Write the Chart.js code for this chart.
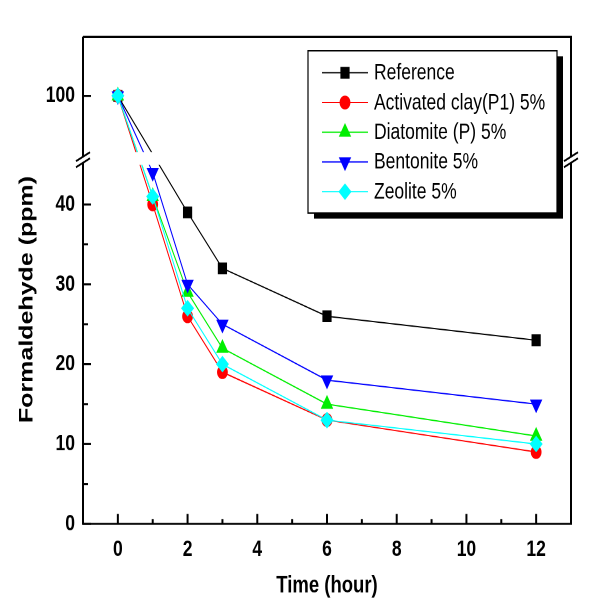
<!DOCTYPE html>
<html>
<head>
<meta charset="utf-8">
<script src="https://cdn.jsdelivr.net/npm/chart.js@4.4.0/dist/chart.umd.min.js"></script>
<style>
  html, body { margin: 0; padding: 0; background: #fff; }
  /* the original figure is a bit taller than wide: the 603x477 drawing is shown stretched to 611 px high */
  #chart { display: block; width: 603px; height: 611px; }
</style>
</head>
<body>
<canvas id="chart" width="603" height="477" style="width:603px;height:611px"></canvas>
<script>
// data
const hours = [0, 1, 2, 3, 6, 12];
const referenceVals = [100, null, 39, 32, 26, 23];
const activatedClayVals = [100, 40, 26, 19, 13, 9];
const diatomiteVals = [100, 41, 29, 22, 15, 11];
const bentoniteVals = [100, 44, 30, 25, 18, 15];
const zeoliteVals = [100, 41, 27, 20, 13, 10];
const seriesLabels = ['Reference', 'Activated clay(P1) 5%', 'Diatomite (P) 5%', 'Bentonite 5%', 'Zeolite 5%'];

const xMajor = [0, 2, 4, 6, 8, 10, 12];
const xMinor = [1, 3, 5, 7, 9, 11];
const yMajor = [0, 10, 20, 30, 40, 100];
const yMinor = [5, 15, 25, 35];

// look of each series
const colors = ['#000000', '#ff0000', '#00ee00', '#0000ff', '#00ffff'];
const pointStyles = ['rect', 'circle', 'triangle', 'triangle', 'rectRot'];
const pointRotations = [0, 0, 0, 180, 0];
const pointSizes = [5.8, 4.9, 6.2, 6.2, 5.8];

const BREAK_LO = 45.6, BREAK_HI = 92;
const FONT = "'Liberation Sans', Arial, sans-serif";

// linear scale with a cut between BREAK_LO and BREAK_HI
class BrokenScale extends Chart.LinearScale {
  toU(v) {
    if (v <= BREAK_LO) return v;
    if (v >= BREAK_HI) return v - BREAK_HI + BREAK_LO;
    return BREAK_LO;
  }
  fromU(u) {
    return u <= BREAK_LO ? u : u + BREAK_HI - BREAK_LO;
  }
  getPixelForValue(v) {
    if (v === null || v === undefined) return NaN;
    const u0 = this.toU(this.min), u1 = this.toU(this.max);
    return this.getPixelForDecimal((this.toU(v) - u0) / (u1 - u0));
  }
  getValueForPixel(p) {
    const u0 = this.toU(this.min), u1 = this.toU(this.max);
    return this.fromU(u0 + this.getDecimalForPixel(p) * (u1 - u0));
  }
}
BrokenScale.id = 'broken';
Chart.register(BrokenScale);

const allVals = [referenceVals, activatedClayVals, diatomiteVals, bentoniteVals, zeoliteVals];

const datasets = allVals.map((vals, i) => ({
  label: seriesLabels[i],
  data: hours.map((h, j) => ({ x: h, y: vals[j] })),
  borderColor: colors[i],
  backgroundColor: colors[i],
  pointBackgroundColor: colors[i],
  pointBorderColor: colors[i],
  pointBorderWidth: 1,
  pointStyle: pointStyles[i],
  pointRotation: pointRotations[i],
  pointRadius: pointSizes[i],
  borderWidth: 1,
  spanGaps: true,
  order: allVals.length - 1 - i   // later series drawn on top
}));

function line(ctx, x1, y1, x2, y2) {
  ctx.beginPath();
  ctx.moveTo(x1, y1);
  ctx.lineTo(x2, y2);
  ctx.stroke();
}

const decor = {
  id: 'decor',
  afterDraw(chart) {
    const { ctx, chartArea: a, scales: { x, y } } = chart;
    const yb = y.getPixelForValue(BREAK_LO);
    ctx.save();

    // white band where the axis is cut
    ctx.fillStyle = '#fff';
    ctx.fillRect(a.left + 2, yb - 6, a.right - a.left - 4, 10);

    // frame
    ctx.strokeStyle = '#000';
    ctx.lineWidth = 1.6;
    line(ctx, a.left, a.top, a.right + 1, a.top);
    line(ctx, a.left - 1, a.bottom, a.right + 1, a.bottom);
    ctx.lineWidth = 2;
    line(ctx, a.right, a.top, a.right, a.bottom);
    line(ctx, a.left, a.top, a.left, a.bottom);

    // inward ticks
    ctx.lineWidth = 1.6;
    yMajor.forEach(v => { const p = y.getPixelForValue(v); line(ctx, a.left, p, a.left + 8, p); });
    yMinor.forEach(v => { const p = y.getPixelForValue(v); line(ctx, a.left, p, a.left + 5, p); });
    ctx.lineWidth = 2;
    xMajor.forEach(v => { const p = x.getPixelForValue(v); line(ctx, p, a.bottom, p, a.bottom - 7.8); });
    xMinor.forEach(v => { const p = x.getPixelForValue(v); line(ctx, p, a.bottom, p, a.bottom - 3.8); });

    // break marks on both vertical axes
    [a.left, a.right].forEach(cx => {
      ctx.fillStyle = '#fff';
      ctx.fillRect(cx - 3, yb - 2.4, 6, 4.8);
      ctx.lineWidth = 1.5;
      line(ctx, cx - 7, yb - 2.4 + 3.5, cx + 7, yb - 2.4 - 3.5);
      line(ctx, cx - 7, yb + 2.4 + 3.5, cx + 7, yb + 2.4 - 3.5);
    });

    // legend box with shadow
    const lx = 308, ly = 39.6, lw = 249, lh = 126.7;
    ctx.fillStyle = '#000';
    ctx.fillRect(lx + 6, ly + 4.4, lw, lh);
    ctx.fillStyle = '#fff';
    ctx.fillRect(lx, ly, lw, lh);
    ctx.lineWidth = 1.2;
    ctx.strokeRect(lx, ly, lw, lh);

    ctx.font = '17.5px ' + FONT;
    ctx.textBaseline = 'middle';
    ctx.textAlign = 'left';
    chart.data.datasets.forEach((ds, i) => {
      const ry = 56.8 + i * 23.2;
      ctx.strokeStyle = ds.borderColor;
      ctx.lineWidth = 1;
      line(ctx, 322, ry, 368, ry);
      ctx.fillStyle = ds.pointBackgroundColor;
      Chart.helpers.drawPoint(ctx, {
        pointStyle: ds.pointStyle, radius: ds.pointRadius,
        rotation: ds.pointRotation, borderWidth: 1
      }, 345, ry);
      ctx.fillStyle = '#000';
      ctx.fillText(ds.label, 374, ry + 0.5, 176);
    });

    // y axis title
    ctx.translate(27, 233.8);
    ctx.rotate(-Math.PI / 2);
    ctx.font = 'bold 19.5px ' + FONT;
    ctx.textAlign = 'center';
    ctx.fillStyle = '#000';
    ctx.fillText('Formaldehyde (ppm)', 0, 0);
    ctx.restore();
  }
};

const tickFont = { family: FONT, size: 17.5, weight: 'bold' };

new Chart(document.getElementById('chart'), {
  type: 'line',
  data: { datasets: datasets },
  options: {
    responsive: false,
    animation: false,
    devicePixelRatio: 2,
    layout: { padding: { left: 0, right: 32, top: 28.65, bottom: 0 } },
    plugins: { legend: { display: false }, tooltip: { enabled: false } },
    elements: { line: { tension: 0 } },
    scales: {
      x: {
        type: 'linear', min: -1, max: 13,
        afterBuildTicks: s => { s.ticks = xMajor.map(v => ({ value: v })); },
        afterFit: s => { s.height = 68; },
        grid: { display: false, drawTicks: false },
        border: { display: false },
        ticks: { padding: 9.5, color: '#000', font: tickFont, maxRotation: 0, autoSkip: false },
        title: {
          display: true, text: 'Time (hour)', color: '#000',
          font: { family: FONT, size: 18.5, weight: 'bold' },
          padding: { top: 0, bottom: 8.5 }
        }
      },
      y: {
        type: 'broken', min: 0, max: 107.4,
        afterBuildTicks: s => { s.ticks = yMajor.map(v => ({ value: v })); },
        afterFit: s => { s.width = 83; },
        grid: { display: false, drawTicks: false },
        border: { display: false },
        ticks: { padding: 8, color: '#000', font: tickFont, autoSkip: false, callback: v => String(v) }
      }
    }
  },
  plugins: [decor]
});
</script>
</body>
</html>
